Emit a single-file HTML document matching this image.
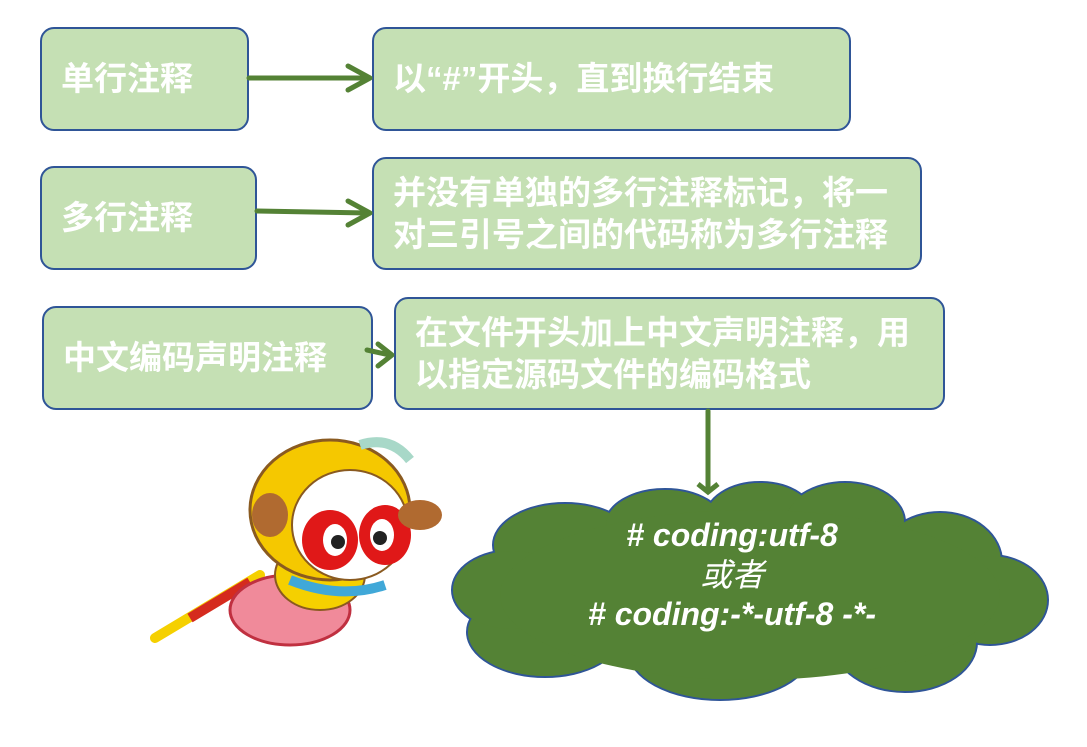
<!DOCTYPE html>
<html><head><meta charset="utf-8"><style>
body{margin:0;width:1087px;height:747px;background:#fff;position:relative;overflow:hidden;font-family:"Liberation Sans","Noto Sans CJK SC",sans-serif}
.b{position:absolute;box-sizing:border-box;background:#c5e0b4;border:2px solid #2f5597;border-radius:14px;color:#fff;font-size:33px;font-weight:bold;display:flex;align-items:center;padding-left:19px;line-height:42px}
svg{position:absolute;left:0;top:0}
</style></head><body>
<div class="b" style="left:40px;top:27px;width:209px;height:104px">单行注释</div>
<div class="b" style="left:40px;top:166px;width:217px;height:104px">多行注释</div>
<div class="b" style="left:42px;top:306px;width:331px;height:104px">中文编码声明注释</div>
<div class="b" style="left:372px;top:27px;width:479px;height:104px">以“#”开头，直到换行结束</div>
<div class="b" style="left:372px;top:157px;width:550px;height:113px">并没有单独的多行注释标记，将一<br>对三引号之间的代码称为多行注释</div>
<div class="b" style="left:394px;top:297px;width:551px;height:113px">在文件开头加上中文声明注释，用<br>以指定源码文件的编码格式</div>
<svg width="1087" height="747">
<g stroke="#548235" stroke-width="5" fill="none" stroke-linecap="round" stroke-linejoin="round">
<line x1="249" y1="78" x2="368" y2="78"/><polyline points="348,66 370,78 348,90"/>
<line x1="257" y1="211" x2="368" y2="213"/><polyline points="348,201 370,213 348,225"/>
<line x1="367" y1="350" x2="390" y2="355"/><polyline points="378,344 392,355 378,366"/>
<line x1="708" y1="411" x2="708" y2="490"/>
</g>
<g fill="#548235" stroke="#2f5597" stroke-width="2">
<ellipse cx="565" cy="545" rx="72" ry="42"/><ellipse cx="665" cy="525" rx="60" ry="36"/>
<ellipse cx="760" cy="518" rx="55" ry="36"/><ellipse cx="845" cy="522" rx="60" ry="40"/>
<ellipse cx="940" cy="562" rx="62" ry="50"/><ellipse cx="990" cy="600" rx="58" ry="45"/>
<ellipse cx="905" cy="642" rx="72" ry="50"/><ellipse cx="720" cy="650" rx="92" ry="50"/>
<ellipse cx="545" cy="632" rx="78" ry="45"/><ellipse cx="512" cy="590" rx="60" ry="40"/>
</g>
<g fill="#548235">
<ellipse cx="565" cy="545" rx="71" ry="41"/><ellipse cx="665" cy="525" rx="59" ry="35"/>
<ellipse cx="760" cy="518" rx="54" ry="35"/><ellipse cx="845" cy="522" rx="59" ry="39"/>
<ellipse cx="940" cy="562" rx="61" ry="49"/><ellipse cx="990" cy="600" rx="57" ry="44"/>
<ellipse cx="905" cy="642" rx="71" ry="49"/><ellipse cx="720" cy="650" rx="91" ry="49"/>
<ellipse cx="545" cy="632" rx="77" ry="44"/><ellipse cx="512" cy="590" rx="59" ry="39"/>
<ellipse cx="750" cy="595" rx="250" ry="85"/>
</g>
<polyline points="698,484 708,492 718,484" stroke="#548235" stroke-width="5" fill="none"/>
<g fill="#fff" font-style="italic" font-weight="bold" font-size="32" text-anchor="middle" font-family="Liberation Sans, Noto Sans CJK SC, sans-serif">
<text x="732" y="546"># coding:utf-8</text>
<text x="732" y="586" font-weight="normal">或者</text>
<text x="732" y="625"># coding:-*-utf-8 -*-</text>
</g>
<g>
<line x1="155" y1="638" x2="260" y2="575" stroke="#f5d000" stroke-width="10" stroke-linecap="round"/>
<line x1="190" y1="618" x2="250" y2="582" stroke="#d52b1e" stroke-width="10"/>
<ellipse cx="290" cy="610" rx="60" ry="35" fill="#f08a9a" stroke="#c03040" stroke-width="3"/>
<ellipse cx="320" cy="575" rx="45" ry="35" fill="#f5d000" stroke="#8a5a20" stroke-width="2"/>
<ellipse cx="330" cy="510" rx="80" ry="70" fill="#f5c800" stroke="#8a5a20" stroke-width="3"/>
<ellipse cx="350" cy="525" rx="58" ry="55" fill="#fff" stroke="#8a5a20" stroke-width="2"/>
<ellipse cx="330" cy="540" rx="28" ry="30" fill="#e01818"/>
<ellipse cx="385" cy="535" rx="26" ry="30" fill="#e01818"/>
<ellipse cx="335" cy="540" rx="12" ry="16" fill="#fff"/><ellipse cx="382" cy="535" rx="12" ry="16" fill="#fff"/>
<circle cx="338" cy="542" r="7" fill="#222"/><circle cx="380" cy="538" r="7" fill="#222"/>
<ellipse cx="270" cy="515" rx="18" ry="22" fill="#b06a30"/>
<ellipse cx="420" cy="515" rx="22" ry="15" fill="#b06a30"/>
<path d="M360 445 Q390 435 410 460" stroke="#a8d8c8" stroke-width="10" fill="none"/>
<path d="M290 580 Q340 600 385 585" stroke="#40a8d8" stroke-width="10" fill="none"/>
</g>
</svg>
</body></html>
